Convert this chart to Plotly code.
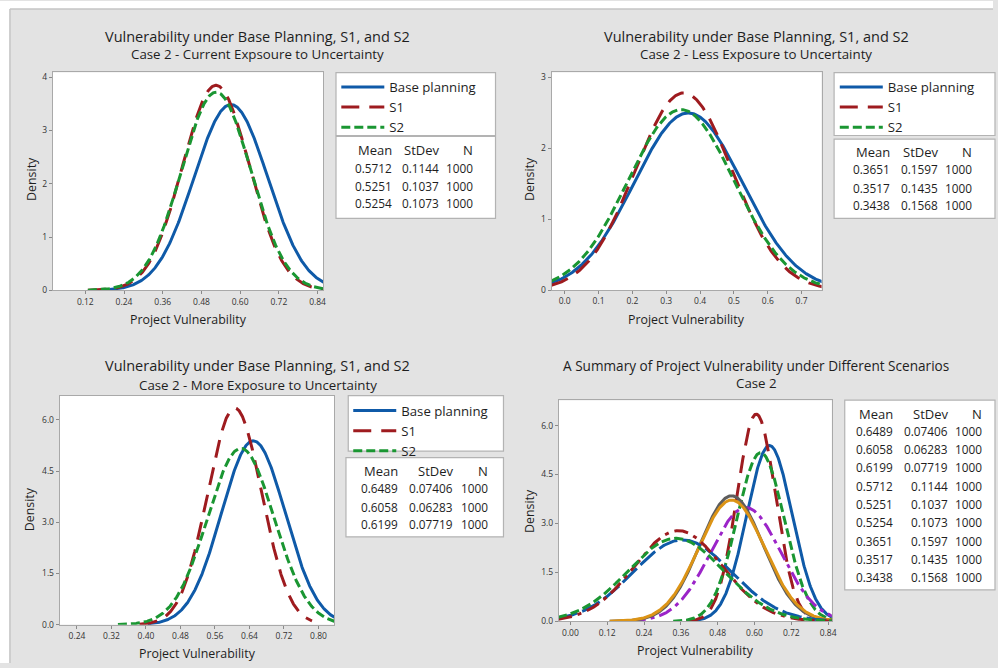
import numpy as np
import plotly.graph_objects as go

W, H = 998, 668

# ---------------- data ----------------
series_names = ["Base planning", "S1", "S2"]

cur_mean = [0.5712, 0.5251, 0.5254]
cur_sd = [0.1144, 0.1037, 0.1073]
cur_n = [1000, 1000, 1000]
cur_xmin = [0.195, 0.128, 0.128]
cur_xmax = [0.87, 0.87, 0.87]

less_mean = [0.3651, 0.3517, 0.3438]
less_sd = [0.1597, 0.1435, 0.1568]
less_n = [1000, 1000, 1000]
less_xmin = [-0.04, -0.04, -0.04]
less_xmax = [0.77, 0.77, 0.77]

more_mean = [0.6489, 0.6058, 0.6199]
more_sd = [0.07406, 0.06283, 0.07719]
more_n = [1000, 1000, 1000]
more_xmin = [0.404, 0.385, 0.335]
more_xmax = [0.86, 0.785, 0.86]

# summary order: More, Current, Less
sum_mean = more_mean + cur_mean + less_mean
sum_sd = more_sd + cur_sd + less_sd
sum_n = more_n + cur_n + less_n
sum_xmin = [0.41, 0.378, 0.335, 0.20, 0.128, 0.128, -0.04, -0.04, -0.04]
sum_xmax = [0.86, 0.80, 0.86, 0.86, 0.86, 0.86, 0.86, 0.86, 0.86]

x1_ticks = [0.12, 0.24, 0.36, 0.48, 0.60, 0.72, 0.84]
x2_ticks = [0.0, 0.1, 0.2, 0.3, 0.4, 0.5, 0.6, 0.7]
x3_ticks = [0.24, 0.32, 0.40, 0.48, 0.56, 0.64, 0.72, 0.80]
x4_ticks = [0.00, 0.12, 0.24, 0.36, 0.48, 0.60, 0.72, 0.84]
y1_ticks = [0, 1, 2, 3, 4]
y2_ticks = [0, 1, 2, 3]
y34_ticks = [0.0, 1.5, 3.0, 4.5, 6.0]

# ---------------- style ----------------
BLUE, RED, GREEN = "#0f5aa8", "#9e1b1f", "#1a9632"
PURPLE, GRAY, ORANGE = "#9b24c8", "#5d5d5d", "#dc9416"
FONT = "'Open Sans', Lato, sans-serif"
TXT = "#1e1e1e"

styles3 = [(BLUE, "solid"), (RED, "18px,10px"), (GREEN, "9px,4px")]
styles9 = [(BLUE, "solid"), (RED, "18px,10px"), (GREEN, "9px,4px"),
           (PURPLE, "14px,5px,4px,5px"), (GRAY, "solid"), (ORANGE, "solid"),
           (BLUE, "20px,5px"), (RED, "14px,6px,4px,6px"), (GREEN, "9px,4px")]


def px(x):
    return x / W


def py(y):
    return 1 - y / H


def normal_curve(m, s, lo, hi):
    # fitted normal density for the given mean / standard deviation
    x = np.linspace(lo, hi, 400)
    y = np.exp(-0.5 * ((x - m) / s) ** 2) / (s * np.sqrt(2 * np.pi))
    return x, y


fig = go.Figure()

panels = [
    (cur_mean, cur_sd, cur_xmin, cur_xmax, "x", "y", "legend"),
    (less_mean, less_sd, less_xmin, less_xmax, "x2", "y2", "legend2"),
    (more_mean, more_sd, more_xmin, more_xmax, "x3", "y3", "legend3"),
]
for means, sds, xmins, xmaxs, xa, ya, lg in panels:
    for i in range(3):
        xx, yy = normal_curve(means[i], sds[i], xmins[i], xmaxs[i])
        col, dash = styles3[i]
        fig.add_trace(go.Scatter(x=xx, y=yy, mode="lines", name=series_names[i],
                                 xaxis=xa, yaxis=ya, legend=lg,
                                 line=dict(color=col, width=3, dash=dash)))

for i in range(9):
    xx, yy = normal_curve(sum_mean[i], sum_sd[i], sum_xmin[i], sum_xmax[i])
    col, dash = styles9[i]
    fig.add_trace(go.Scatter(x=xx, y=yy, mode="lines", showlegend=False,
                             xaxis="x4", yaxis="y4",
                             line=dict(color=col, width=3, dash=dash)))

axis_common = dict(showgrid=False, zeroline=False, showline=True, mirror=True,
                   linecolor="#a9a9a9", linewidth=1, ticks="outside", ticklen=3,
                   tickcolor="#8a8a8a", tickfont=dict(size=8.5, color="#333333", family=FONT))

layout_axes = dict(
    xaxis=dict(domain=[px(53), px(325)], range=[0.019, 0.858], anchor="y",
               tickvals=x1_ticks, ticktext=[f"{v:.2f}" for v in x1_ticks], **axis_common),
    yaxis=dict(domain=[py(292), py(72)], range=[0, 4.09], anchor="x",
               tickvals=y1_ticks, ticktext=[str(v) for v in y1_ticks], **axis_common),
    xaxis2=dict(domain=[px(554.3), px(825.7)], range=[-0.039, 0.759], anchor="y2",
                tickvals=x2_ticks, ticktext=[f"{v:.1f}" for v in x2_ticks], **axis_common),
    yaxis2=dict(domain=[py(291.7), py(72)], range=[0, 3.07], anchor="x2",
                tickvals=y2_ticks, ticktext=[str(v) for v in y2_ticks], **axis_common),
    xaxis3=dict(domain=[px(60), px(335.7)], range=[0.2, 0.836], anchor="y3",
                tickvals=x3_ticks, ticktext=[f"{v:.2f}" for v in x3_ticks], **axis_common),
    yaxis3=dict(domain=[py(629.3), py(398.3)], range=[0, 6.71], anchor="x3",
                tickvals=y34_ticks, ticktext=[f"{v:.1f}" for v in y34_ticks], **axis_common),
    xaxis4=dict(domain=[px(561.7), px(836)], range=[-0.0376, 0.852], anchor="y4",
                tickvals=x4_ticks, ticktext=[f"{v:.2f}" for v in x4_ticks], **axis_common),
    yaxis4=dict(domain=[py(626), py(403)], range=[0, 6.77], anchor="x4",
                tickvals=y34_ticks, ticktext=[f"{v:.1f}" for v in y34_ticks], **axis_common),
)

shapes = []
# white outer strips and panel border
shapes.append(dict(type="rect", xref="paper", yref="paper", x0=0, x1=px(10), y0=0, y1=1,
                   fillcolor="white", line=dict(width=0), layer="below"))
shapes.append(dict(type="rect", xref="paper", yref="paper", x0=0, x1=1, y0=py(8), y1=1,
                   fillcolor="white", line=dict(width=0), layer="below"))
shapes.append(dict(type="line", xref="paper", yref="paper", x0=px(10), x1=px(10), y0=0, y1=py(8),
                   line=dict(color="#c4c4c4", width=1.5)))
shapes.append(dict(type="line", xref="paper", yref="paper", x0=px(10), x1=1, y0=py(8), y1=py(8),
                   line=dict(color="#c4c4c4", width=1.5)))


def box(x0, y0, x1, y1):
    shapes.append(dict(type="rect", xref="paper", yref="paper", x0=px(x0), x1=px(x1),
                       y0=py(y1), y1=py(y0), fillcolor="white",
                       line=dict(color="#b3b3b3", width=1.2), layer="below"))


# legend boxes & stats boxes
box(337.7, 72.3, 498, 135.7)
box(337.7, 136.7, 498, 219.3)
box(838.3, 72.3, 1000, 135.7)
box(838.3, 139.3, 1000, 219.3)
box(350, 398.3, 506, 454.3)
box(347.7, 460.7, 506, 540.7)
box(849, 402.7, 1000, 594.3)

annotations = []


def text(x, y, s, size, xanchor="center", angle=0, color=TXT):
    annotations.append(dict(x=px(x), y=py(y), xref="paper", yref="paper", text=s,
                            showarrow=False, xanchor=xanchor, yanchor="middle",
                            textangle=angle, font=dict(size=size, color=color, family=FONT)))


# titles
main_title = "Vulnerability under Base Planning, S1, and S2"
text(259, 35.7, main_title, 14.5)
text(259, 53.3, "Case 2 - Current Expsoure to Uncertainty", 13.3)
text(760, 35.7, main_title, 14.5)
text(760, 53.3, "Case 2 - Less Exposure to Uncertainty", 13.3)
text(259, 367.3, main_title, 14.5)
text(259, 387.3, "Case 2 - More Exposure to Uncertainty", 13.3)
text(760.3, 367.7, "A Summary of Project Vulnerability under Different Scenarios", 13.6)
text(760.3, 385.3, "Case 2", 13.3)

# axis titles
for (xx, yy) in [(189, 321), (690, 321), (198, 658), (699, 655)]:
    text(xx, yy, "Project Vulnerability", 12.4)
for (xx, yy) in [(31.7, 180), (532.3, 180), (30, 513), (532.3, 515)]:
    text(xx, yy, "Density", 12.4, angle=-90)


def stats(col_right, y_header, row_ys, means, sds, ns):
    hdr = ["Mean", "StDev", "N"]
    for c, h in zip(col_right, hdr):
        text(c, y_header, h, 13, xanchor="right")
    for k, yy in enumerate(row_ys):
        text(col_right[0], yy, f"{means[k]:.4f}", 11.8, xanchor="right")
        sd = sds[k]
        text(col_right[1], yy, f"{sd:.4f}" if sd >= 0.1 else f"{sd:.5f}", 11.8, xanchor="right")
        text(col_right[2], yy, str(ns[k]), 11.8, xanchor="right")


stats([396, 443, 477], 150.7, [168.3, 186.7, 204.3], cur_mean, cur_sd, cur_n)
stats([896.7, 944.3, 979], 152.7, [170, 189, 206], less_mean, less_sd, less_n)
stats([401.7, 457.3, 492.3], 474, [491.3, 510.3, 527.7], more_mean, more_sd, more_n)
stats([900, 955, 989], 416.7,
      [434.3, 452.3, 470.7, 489, 507.3, 526, 545, 563.3, 581],
      sum_mean, sum_sd, sum_n)

legend_common = dict(bgcolor="rgba(0,0,0,0)", borderwidth=0, xanchor="left", yanchor="top",
                     font=dict(size=13.2, color=TXT, family=FONT), itemwidth=43,
                     tracegroupgap=0, itemclick=False)

fig.update_layout(
    width=W, height=H, autosize=False,
    margin=dict(l=0, r=0, t=0, b=0, pad=0),
    paper_bgcolor="#e3e3e3", plot_bgcolor="white",
    font=dict(family=FONT, color=TXT),
    shapes=shapes, annotations=annotations,
    legend=dict(x=px(338), y=py(71.5), **legend_common),
    legend2=dict(x=px(839), y=py(71.5), **legend_common),
    legend3=dict(x=px(350), y=py(398), **legend_common),
    **layout_axes,
)

fig.write_html("out.html")
